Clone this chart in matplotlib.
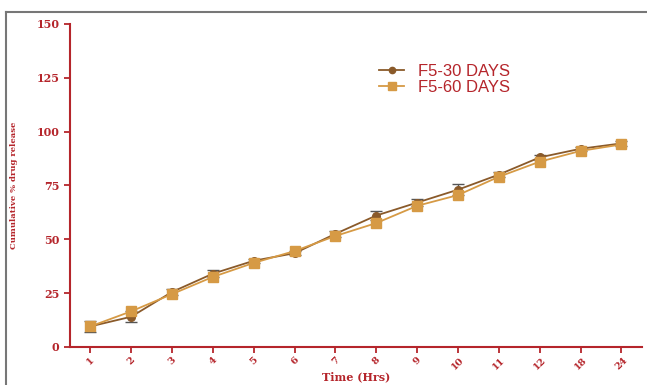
import matplotlib
matplotlib.use("Agg")
import matplotlib.pyplot as plt
from matplotlib.lines import Line2D

# data
hours = ["1", "2", "3", "4", "5", "6", "7", "8", "9", "10", "11", "12", "18", "24"]
f5_30 = [9.5, 14.0, 25.5, 34.0, 40.0, 43.5, 52.5, 61.0, 67.0, 73.0, 80.0, 88.0, 92.0, 94.5]
f5_30_err = [2.5, 2.5, 1.5, 1.5, 1.0, 1.0, 1.5, 2.0, 1.5, 2.5, 1.0, 1.0, 1.0, 1.0]
f5_60 = [9.5, 16.5, 24.5, 32.5, 39.0, 44.5, 51.5, 57.5, 65.5, 70.5, 79.0, 86.0, 91.0, 94.0]

red = "#b5252b"
brown = "#8a5a2a"
tan = "#d69a45"

fig = plt.figure(figsize=(6.47, 3.85), dpi=100)
ax = fig.add_axes([0.108, 0.099, 0.884, 0.839])

x = list(range(len(hours)))
ax.errorbar(x, f5_30, yerr=f5_30_err, color=brown, marker="o", markersize=5.5,
            linewidth=1.3, ecolor="#555555", elinewidth=1, capsize=4, capthick=1,
            zorder=3)
ax.plot(x, f5_60, color=tan, marker="s", markersize=6.5, linewidth=1.3, zorder=4)

ax.set_xlim(-0.5, 13.5)
ax.set_ylim(0, 150)
ax.set_yticks([0, 25, 50, 75, 100, 125, 150])
ax.set_xticks(x)
ax.set_xticklabels(hours, rotation=45, family="DejaVu Serif", fontsize=7,
                   fontweight="bold", color=red)
for lbl in ax.get_yticklabels():
    lbl.set_family("DejaVu Serif")
    lbl.set_fontweight("bold")
    lbl.set_fontsize(8)
    lbl.set_color(red)

for side in ["top", "right"]:
    ax.spines[side].set_visible(False)
for side in ["left", "bottom"]:
    ax.spines[side].set_color(red)
    ax.spines[side].set_linewidth(1.5)
ax.tick_params(colors=red, width=1.3, length=4)
ax.tick_params(axis="x", pad=2)

ax.set_xlabel("Time (Hrs)", family="DejaVu Serif", fontsize=8, fontweight="bold",
              color=red)
ax.xaxis.set_label_coords(0.5, -0.075)
ax.set_ylabel("Cumulative % drug release", family="DejaVu Serif", fontsize=6,
              fontweight="bold", color=red)
ax.yaxis.set_label_coords(-0.09, 0.5)

handles = [
    Line2D([], [], color=brown, marker="o", markersize=4.5, linewidth=1.3),
    Line2D([], [], color=tan, marker="s", markersize=5.5, linewidth=1.3),
]
leg = ax.legend(handles, ["F5-30 DAYS", "F5-60 DAYS"], loc="upper left",
                bbox_to_anchor=(0.515, 0.922), frameon=False,
                prop={"family": "Liberation Sans", "size": 12}, handlelength=1.5,
                labelspacing=0.05, handletextpad=0.8)
for t in leg.get_texts():
    t.set_color(red)

# gray frame around the figure (top and left only visible)
fig.add_artist(Line2D([6 / 647, 1.0], [1 - 12 / 385, 1 - 12 / 385], color="#777777", linewidth=1.5))
fig.add_artist(Line2D([6 / 647, 6 / 647], [0.0, 1 - 12 / 385], color="#777777", linewidth=1.5))

fig.savefig("out.png", dpi=100)
